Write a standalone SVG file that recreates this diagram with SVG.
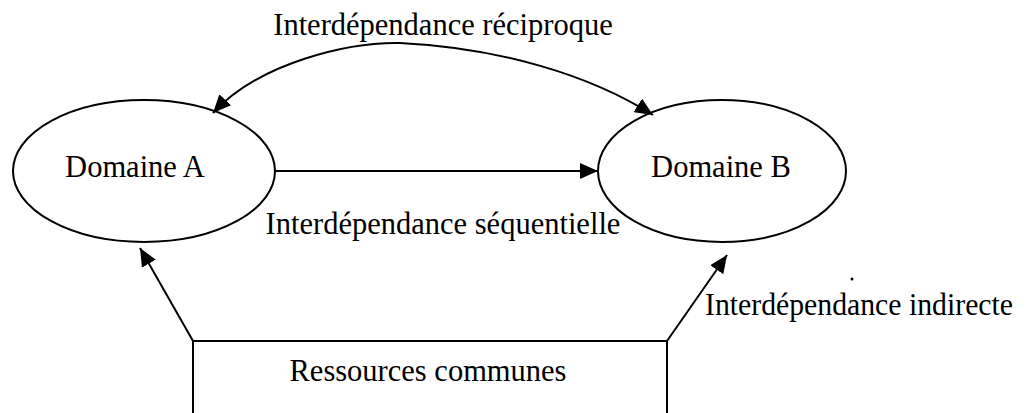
<svg xmlns="http://www.w3.org/2000/svg" width="1028" height="413" viewBox="0 0 1028 413">
<style>
.shape{fill:none;stroke:#000;stroke-width:2}
.edge{fill:none;stroke:#000;stroke-width:2}
.t{font-family:"Liberation Serif","Times New Roman",serif;font-size:30.5px;fill:#000}
</style>
<defs>
<marker id="arr" markerUnits="userSpaceOnUse" viewBox="0 0 18 16" refX="18" refY="8" markerWidth="18" markerHeight="16" orient="auto-start-reverse">
<path d="M0,0 L18,8 L0,16 Z" fill="#000"/>
</marker>
</defs>
<rect width="1028" height="413" fill="#fff"/>
<g id="domaineA">
<ellipse class="shape" cx="144" cy="171" rx="131" ry="71"/>
<text class="t" x="135" y="177" text-anchor="middle">Domaine A</text>
</g>
<g id="domaineB">
<ellipse class="shape" cx="722" cy="171" rx="124" ry="71"/>
<text class="t" x="721" y="177" text-anchor="middle">Domaine B</text>
</g>
<g id="ressources">
<path class="shape" d="M193,420 L193,341 L667,341 L667,420"/>
<text class="t" x="428" y="381" text-anchor="middle">Ressources communes</text>
</g>
<g id="connectors">
<path class="edge" d="M213,113 C260,62 350,42 400,43 C500,48 590,75 653,115" marker-start="url(#arr)" marker-end="url(#arr)"/>
<line class="edge" x1="275" y1="171" x2="598" y2="171" marker-end="url(#arr)"/>
<line class="edge" x1="193" y1="341" x2="140" y2="248" marker-end="url(#arr)"/>
<line class="edge" x1="667" y1="341" x2="727" y2="255" marker-end="url(#arr)"/>
</g>
<g id="labels">
<text class="t" x="443" y="35" text-anchor="middle">Interdépendance réciproque</text>
<text class="t" x="443" y="234" text-anchor="middle">Interdépendance séquentielle</text>
<text class="t" x="705" y="315" textLength="308" lengthAdjust="spacingAndGlyphs">Interdépendance indirecte</text>
<circle cx="852" cy="279" r="1.5" fill="#000"/>
</g>
</svg>
